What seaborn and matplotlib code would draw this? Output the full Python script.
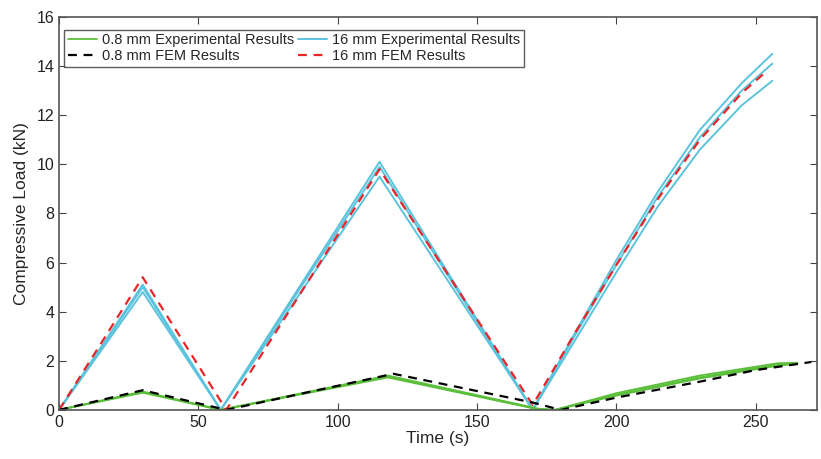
import numpy as np
import pandas as pd
import matplotlib
matplotlib.use("Agg")
import matplotlib.pyplot as plt
import seaborn as sns

# ---- data ----
# 16 mm experimental (three specimens)
t16_exp = [0, 30, 58, 115, 170, 185, 200, 215, 230, 245, 256]
y16_exp_a = [0, 5.1, 0, 10.1, 0, 3.1, 6.1, 8.9, 11.4, 13.3, 14.5]
y16_exp_b = [0, 5.0, 0, 9.9, 0, 3.0, 5.9, 8.7, 11.1, 13.0, 14.1]
y16_exp_c = [0, 4.8, 0, 9.5, 0, 2.8, 5.6, 8.3, 10.6, 12.4, 13.4]

# 16 mm FEM
t16_fem = [0, 30, 60, 115, 170, 185, 200, 215, 230, 245, 253]
y16_fem = [0, 5.4, 0, 9.8, 0.2, 3.1, 5.9, 8.6, 11.0, 12.9, 13.7]

# 0.8 mm experimental (three specimens)
t08_exp = [0, 30, 58, 118, 172, 178, 200, 230, 258, 265]
y08_exp_a = [0, 0.75, 0, 1.40, 0.05, 0, 0.68, 1.40, 1.90, 1.92]
y08_exp_b = [0, 0.72, 0, 1.36, 0.03, 0, 0.62, 1.33, 1.85, 1.90]
y08_exp_c = [0, 0.70, 0, 1.32, 0.02, 0, 0.58, 1.28, 1.80, 1.88]

# 0.8 mm FEM
t08_fem = [0, 30, 60, 120, 170, 180, 200, 230, 250, 270]
y08_fem = [0, 0.80, 0, 1.47, 0.30, 0, 0.50, 1.15, 1.62, 1.95]

labels = ["0.8 mm Experimental Results", "0.8 mm FEM Results",
          "16 mm Experimental Results", "16 mm FEM Results"]

green = "#5cbf3c"
cyan = "#5bc3dc"
red = "#e8262a"

sns.set_style("ticks")
plt.rcParams['font.family'] = ['Liberation Sans', 'DejaVu Sans']

fig = plt.figure(figsize=(8.21, 4.59), dpi=100)
ax = fig.add_axes([0.072, 0.107, 0.923, 0.856])

# experimental curves
for i, y in enumerate([y16_exp_a, y16_exp_b, y16_exp_c]):
    sns.lineplot(x=t16_exp, y=y, ax=ax, color=cyan, linewidth=1.4,
                 label=labels[2] if i == 0 else None, legend=False)
for i, y in enumerate([y08_exp_a, y08_exp_b, y08_exp_c]):
    sns.lineplot(x=t08_exp, y=y, ax=ax, color=green, linewidth=1.3,
                 label=labels[0] if i == 0 else None, legend=False)

# FEM curves
sns.lineplot(x=t16_fem, y=y16_fem, ax=ax, color=red, linewidth=1.6,
             linestyle=(0, (4, 3)), label=labels[3], legend=False)
sns.lineplot(x=t08_fem, y=y08_fem, ax=ax, color="black", linewidth=1.6,
             linestyle=(0, (4, 3)), label=labels[1], legend=False)

ax.set_xlim(0, 272)
ax.set_ylim(0, 16)
ax.set_xticks([0, 50, 100, 150, 200, 250])
ax.set_yticks(np.arange(0, 17, 2))
ax.set_xlabel("Time (s)", fontsize=12.5, labelpad=1)
ax.set_ylabel("Compressive Load (kN)", fontsize=12.5, labelpad=5)
ax.tick_params(direction="in", top=True, right=True, labelsize=11.5,
               length=5, width=0.8, colors="#444444", labelcolor="#222222")
for s in ax.spines.values():
    s.set_visible(True)
    s.set_color("#555555")
    s.set_linewidth(1.2)

h, l = ax.get_legend_handles_labels()
order = [l.index(x) for x in labels]
leg = ax.legend([h[i] for i in order], [l[i] for i in order], ncol=2,
                loc="upper left", bbox_to_anchor=(0.007, 0.968),
                fontsize=10.5, frameon=True, fancybox=False,
                handlelength=2.0, handletextpad=0.3, columnspacing=0.3,
                labelspacing=0.15, borderpad=0.25, borderaxespad=0.0)
leg.get_frame().set_edgecolor("#333333")
leg.get_frame().set_linewidth(1.0)

fig.savefig("out.png", dpi=100)
